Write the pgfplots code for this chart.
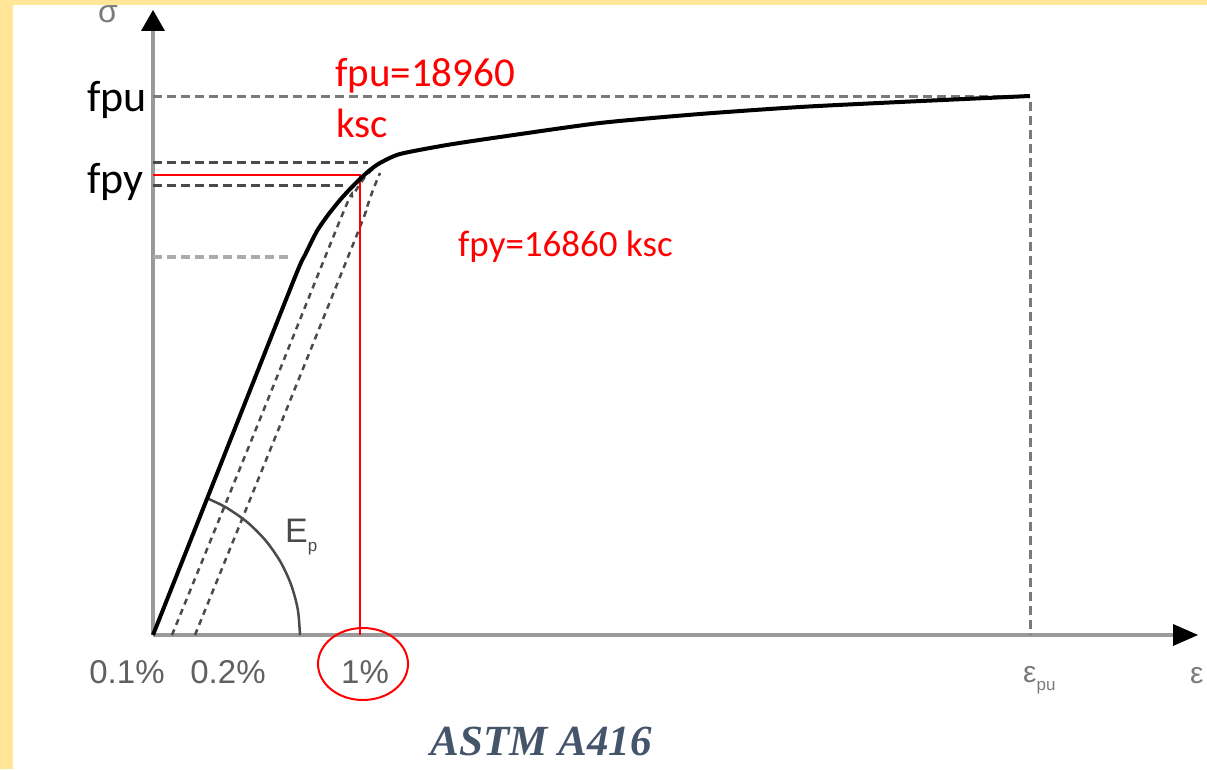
\documentclass[border=0pt]{standalone}
\usepackage{pgfplots}
\pgfplotsset{compat=1.18}
\usepackage{fontspec}
\setmainfont{Liberation Sans}
\newfontfamily\calfont{Carlito}
\newfontfamily\serfont{Liberation Serif}
\definecolor{bordery}{HTML}{FFE699}
\definecolor{astm}{HTML}{44546A}
\definecolor{axgray}{HTML}{9A9A9A}
\definecolor{dkdash}{HTML}{4A4A4A}
\definecolor{mddash}{HTML}{7A7A7A}
\definecolor{ltdash}{HTML}{ABABAB}
\definecolor{lblgray}{HTML}{606060}
\begin{document}
\begin{tikzpicture}
\begin{axis}[
  width=1207pt, height=769pt, scale only axis,
  xmin=-153, xmax=1054, ymin=-134, ymax=635,
  hide axis, clip=false,
]
% axes
\addplot[axgray, line width=4pt, forget plot] coordinates {(0,0) (0,608)};
\addplot[fill=black, draw=none, forget plot] coordinates {(-12,604) (12,604) (0,625)} -- cycle;
\addplot[axgray, line width=4pt, forget plot] coordinates {(0,0) (1022,0)};
\addplot[fill=black, draw=none, forget plot] coordinates {(1020,11) (1020,-11) (1045,0)} -- cycle;
% dashed guide lines
\addplot[mddash, line width=3pt, dash pattern=on 9pt off 5pt, forget plot] coordinates {(0,538) (877,538) (877,0)};
\addplot[dkdash, line width=3pt, dash pattern=on 9pt off 5pt, forget plot] coordinates {(0,472) (215,472)};
\addplot[dkdash, line width=3pt, dash pattern=on 9pt off 5pt, forget plot] coordinates {(0,449) (190,449)};
\addplot[ltdash, line width=3.5pt, dash pattern=on 9pt off 5pt, forget plot] coordinates {(0,378) (137,378)};
% offset dashed lines
\addplot[dkdash, line width=2.5pt, dash pattern=on 6pt off 5pt, smooth, forget plot] coordinates {(19,0) (105,211) (190,422) (200,440) (212,458) (222,468)};
\addplot[dkdash, line width=2.5pt, dash pattern=on 6pt off 5pt, smooth, forget plot] coordinates {(42,0) (124,202) (205,403) (213,425) (220,445) (227,462)};
% arc E_p
\addplot[dkdash, line width=2.5pt, smooth, forget plot] coordinates {(147,0) (144.8,25.5) (138.1,50.3) (127.3,73.5) (112.6,94.5) (94.5,112.6) (73.5,127.3) (55.1,136.3)};
% red lines
\addplot[red, line width=2pt, forget plot] coordinates {(0,459.5) (207,459.5) (207,0)};
% main curve
\addplot[black, line width=4pt, smooth, tension=0.4, forget plot] coordinates {(0,0) (71,179) (142,358) (152,380) (164,404) (175,420) (187,435) (197,446) (207,456) (217,465) (227,472) (247,481) (294,490) (347,498) (447,512) (547,521) (647,528) (747,533) (877,539)};
% ellipse around 1%
\draw[red, line width=2pt] (axis cs:210,-29) ellipse [x radius=45pt, y radius=36pt];
% labels
\node[anchor=base west, inner sep=0pt, font=\calfont\fontsize{44}{50}\selectfont] at (axis cs:-66,523) {fpu};
\node[anchor=base west, inner sep=0pt, font=\calfont\fontsize{44}{50}\selectfont] at (axis cs:-66,441) {fpy};
\node[anchor=base west, inner sep=0pt, red, font=\calfont\fontsize{41}{48}\selectfont] at (axis cs:182,548) {fpu=18960};
\node[anchor=base west, inner sep=0pt, red, font=\calfont\fontsize{41}{48}\selectfont] at (axis cs:183,497) {ksc};
\node[anchor=base west, inner sep=0pt, red, font=\calfont\fontsize{37}{44}\selectfont] at (axis cs:305,378) {fpy=16860 ksc};
\node[anchor=base, inner sep=0pt, lblgray, font=\fontsize{33}{38}\selectfont] at (axis cs:-26,-48) {0.1\%};
\node[anchor=base, inner sep=0pt, lblgray, font=\fontsize{33}{38}\selectfont] at (axis cs:75,-48) {0.2\%};
\node[anchor=base, inner sep=0pt, lblgray, font=\fontsize{33}{38}\selectfont] at (axis cs:212,-48) {1\%};
\node[anchor=base west, inner sep=0pt, dkdash, font=\fontsize{34}{40}\selectfont] at (axis cs:132,92) {E\raisebox{-9pt}{\fontsize{17}{20}\selectfont p}};
\node[anchor=base west, inner sep=0pt, mddash, font=\fontsize{30}{36}\selectfont] at (axis cs:870,-47) {ε\raisebox{-8pt}{\fontsize{17}{20}\selectfont pu}};
\node[anchor=base west, inner sep=0pt, mddash, font=\fontsize{30}{36}\selectfont] at (axis cs:1037,-48) {ε};
\node[anchor=base, inner sep=0pt, mddash, font=\fontsize{32}{36}\selectfont] at (axis cs:-45,612) {σ};
\node[anchor=base, inner sep=0pt, astm, font=\serfont\bfseries\itshape\fontsize{43}{50}\selectfont] at (axis cs:388,-120) {ASTM A416};
% yellow border
\addplot[fill=bordery, draw=none, forget plot] coordinates {(-153,-134) (-140,-134) (-140,630) (1054,630) (1054,635) (-153,635)} -- cycle;
\end{axis}
\pgfresetboundingbox
\path[use as bounding box] (current axis.south west) rectangle (current axis.north east);
\end{tikzpicture}
\end{document}
